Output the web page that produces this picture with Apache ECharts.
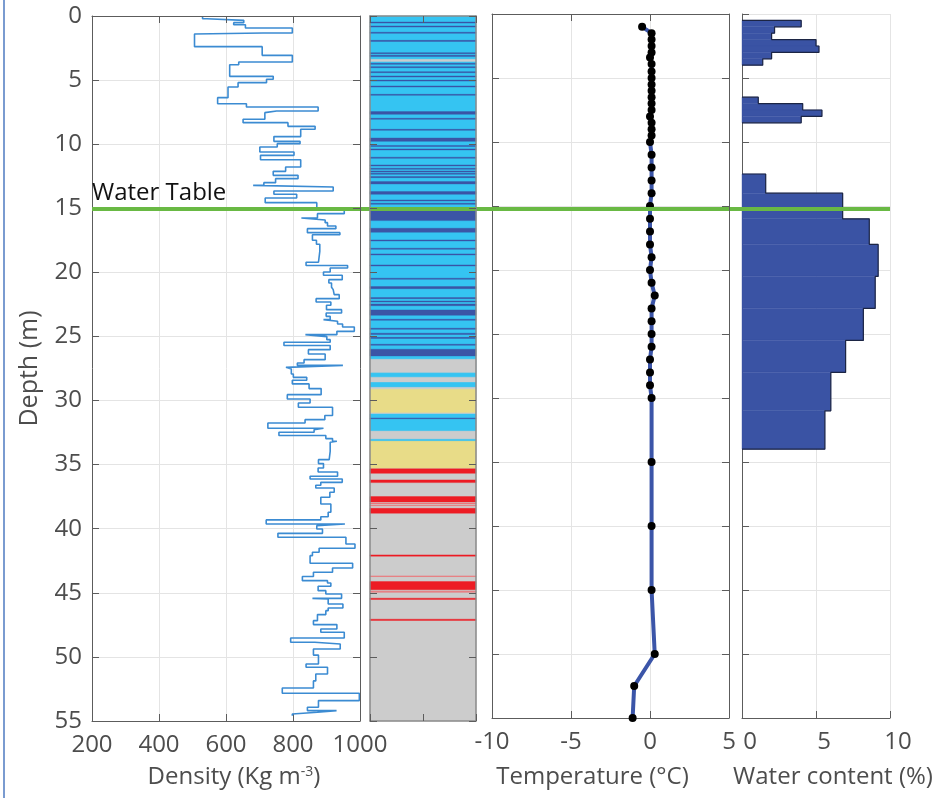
<!DOCTYPE html>
<html>
<head>
<meta charset="utf-8">
<title>Depth profiles</title>
<script src="https://cdn.jsdelivr.net/npm/echarts@6/dist/echarts.min.js"></script>
<style>
  html, body { margin: 0; padding: 0; background: #fff; }
  #main { width: 951px; height: 798px; }
</style>
</head>
<body>
<div id="main"></div>
<script>
// depth axis
var depthMin = 0, depthMax = 55, depthStep = 5;
var waterTable = 15;

// density log (stairs): segment i spans densityDepth[i] .. densityDepth[i+1]
var densityDepth = [0, 0.21, 0.34, 0.52, 0.68, 0.94, 1.33, 1.40, 2.39, 3.07,
  3.59, 3.80, 4.71, 4.94, 5.20, 5.54, 6.37, 6.84, 7.10, 7.41,
  7.54, 8.06, 8.32, 8.61, 8.84, 9.41, 9.78, 9.96, 10.22, 10.61,
  10.87, 11.21, 11.78, 12.12, 12.43, 12.69, 13.00, 13.21, 13.34, 13.65,
  13.91, 14.20, 14.56, 15.16, 15.42, 15.76, 15.91, 16.12, 16.38, 16.59,
  16.90, 17.06, 17.50, 17.81, 18.36, 19.21, 19.47, 19.66, 19.97, 20.23,
  20.57, 20.83, 21.16, 21.35, 21.74, 22.05, 22.31, 22.57, 22.91, 23.17,
  23.43, 23.69, 23.82, 24.03, 24.26, 24.60, 24.86, 25.01, 25.25, 25.45,
  25.71, 26.03, 26.37, 26.81, 27.07, 27.26, 27.41, 27.54, 27.93, 28.19,
  28.42, 28.70, 29.07, 29.54, 29.88, 30.19, 30.52, 31.17, 31.49, 31.75,
  32.16, 32.27, 32.47, 32.73, 32.97, 33.18, 33.26, 33.96, 34.61, 34.92,
  35.26, 35.57, 35.91, 36.12, 36.38, 36.61, 36.82, 37.15, 37.54, 38.07,
  38.71, 39.06, 39.31, 39.63, 39.76, 40.02, 40.36, 40.67, 41.19, 41.52,
  41.84, 42.10, 42.69, 43.06, 43.39, 43.73, 44.05, 44.23, 44.49, 44.83,
  45.09, 45.43, 45.48, 45.87, 46.18, 46.39, 46.70, 47.17, 47.48, 47.82,
  48.08, 48.52, 48.86, 48.99, 49.38, 49.86, 50.55, 50.81, 51.33, 51.87,
  52.43, 52.84, 53.41, 53.93, 54.19, 54.32, 54.45, 54.60];
var densityValue = [530, 543, 653, 623, 658, 798, 711, 506, 708, 798,
  638, 611, 741, 721, 636, 606, 575, 661, 875, 751,
  716, 651, 785, 866, 823, 743, 821, 753, 701, 803,
  703, 823, 778, 741, 815, 748, 713, 681, 920, 743,
  811, 717, 871, 953, 873, 825, 896, 903, 928, 843,
  940, 858, 870, 880, 876, 839, 963, 911, 891, 947,
  907, 915, 920, 923, 938, 869, 913, 900, 945, 899,
  911, 891, 933, 948, 983, 931, 837, 901, 911, 773,
  911, 846, 896, 833, 813, 949, 779, 795, 801, 841,
  798, 848, 884, 783, 851, 816, 918, 895, 836, 725,
  891, 863, 758, 898, 918, 931, 911, 908, 876, 891,
  875, 933, 851, 947, 883, 868, 923, 910, 883, 913,
  905, 883, 720, 955, 871, 888, 755, 958, 985, 878,
  858, 851, 978, 918, 861, 828, 903, 913, 875, 898,
  945, 858, 905, 949, 905, 898, 873, 861, 931, 883,
  953, 793, 865, 941, 861, 876, 839, 903, 868, 861,
  768, 998, 876, 843, 930, 873, 798];

// lithology column: bands drawn in order, later ones on top
var lithoTop    = [0, 29.12,
  0.47, 0.78, 1.27, 1.90, 2.86, 3.07, 3.69, 3.95, 4.34, 4.68, 5.00, 5.46, 6.11, 7.98, 8.84,
  10.10, 10.37, 11.02, 11.62, 11.88, 12.09, 12.27, 12.53, 14.35, 14.61, 17.47, 18.12, 18.56,
  19.42, 20.46, 21.97, 22.23, 23.66, 24.36, 25.07, 25.61,
  7.46, 9.52, 12.92, 13.70, 15.08, 16.56, 21.11, 22.47, 22.93, 24.75, 26.00,
  3.38, 26.78, 28.18, 28.97,
  29.12, 33.13, 31.05, 33.02, 31.36,
  35.33, 36.19, 37.49, 38.41, 42.04, 44.12, 45.42, 47.06,
  38.00, 38.16, 43.68, 44.90];
var lithoBottom = [29.12, 55,
  0.55, 0.86, 1.35, 1.98, 2.94, 3.15, 3.77, 4.03, 4.42, 4.76, 5.08, 5.54, 6.19, 8.06, 8.92,
  10.18, 10.45, 11.10, 11.70, 11.96, 12.17, 12.35, 12.61, 14.43, 14.69, 17.55, 18.20, 18.64,
  19.50, 20.54, 22.05, 22.31, 23.74, 24.44, 25.15, 25.69,
  7.67, 9.78, 13.10, 13.91, 15.96, 16.87, 21.27, 22.60, 23.35, 24.85, 26.52,
  3.54, 27.82, 28.55, 29.12,
  30.94, 35.28, 32.35, 33.13, 31.42,
  35.68, 36.40, 37.91, 38.79, 42.14, 44.77, 45.52, 47.16,
  38.05, 38.21, 43.73, 44.95];
var lithoType   = ['sand', 'silt',
  'clay', 'clay', 'clay', 'clay', 'clay', 'clay', 'clay', 'clay', 'clay', 'clay', 'clay', 'clay', 'clay', 'clay', 'clay',
  'clay', 'clay', 'clay', 'clay', 'clay', 'clay', 'clay', 'clay', 'clay', 'clay', 'clay', 'clay', 'clay',
  'clay', 'clay', 'clay', 'clay', 'clay', 'clay', 'clay', 'clay',
  'clay', 'clay', 'clay', 'clay', 'clay', 'clay', 'clay', 'clay', 'clay', 'clay', 'clay',
  'silt', 'silt', 'silt', 'silt',
  'gravel', 'gravel', 'sand', 'sand', 'clay',
  'rock', 'rock', 'rock', 'rock', 'rock', 'rock', 'rock', 'rock',
  'rockThin', 'rockThin', 'rockThin', 'rockThin'];
var lithoColor = {
  sand: '#35c4f2', clay: '#3b55a6', silt: '#cccccc',
  gravel: '#e8dc88', rock: '#ed1c24', rockThin: '#f0686c'
};

// temperature
var tempDepth = [1.0, 1.5, 2.0, 2.5, 3.0, 3.4, 3.9, 4.5, 5.0, 5.5,
  6.0, 6.5, 7.0, 7.5, 8.0, 8.5, 9.0, 9.5, 10.0, 11.0,
  12.0, 13.0, 14.0, 15.0, 16.0, 17.0, 18.0, 19.0, 20.0, 21.0,
  22.0, 23.0, 24.0, 25.0, 26.0, 27.0, 28.0, 29.0, 30.0, 35.0,
  40.0, 45.0, 50.0, 52.5, 55.0];
var tempValue = [-0.5, 0.1, 0.1, 0.1, 0.1, 0.0, 0.1, 0.1, 0.1, 0.1,
  0.1, 0.1, 0.1, 0.1, 0.0, 0.1, 0.1, 0.1, 0.0, 0.1,
  0.1, 0.1, 0.1, 0.0, 0.0, 0.0, 0.0, 0.1, 0.0, 0.1,
  0.3, 0.1, 0.1, 0.1, 0.1, 0.0, 0.0, 0.0, 0.1, 0.1,
  0.1, 0.1, 0.3, -1.0, -1.1];

// water content (%), per depth interval
var waterTop    = [0.5, 1.0, 1.5, 2.0, 2.5, 3.0, 3.5, 6.5, 7.0, 7.5, 8.0,
  12.5, 14.0, 16.0, 18.0, 20.5, 23.0, 25.5, 28.0, 31.0];
var waterBottom = [1.0, 1.5, 2.0, 2.5, 3.0, 3.5, 4.0, 7.0, 7.5, 8.0, 8.5,
  14.0, 16.0, 18.0, 20.5, 23.0, 25.5, 28.0, 31.0, 34.0];
var waterValue  = [4.0, 2.2, 2.0, 5.0, 5.2, 2.0, 1.4, 1.1, 4.1, 5.4, 4.0,
  1.6, 6.8, 8.6, 9.2, 9.0, 8.2, 7.0, 6.0, 5.6];

// ---- derived series data ----
var densityLine = [];
for (var i = 0; i < densityValue.length; i++) {
  densityLine.push([densityValue[i], densityDepth[i]]);
  densityLine.push([densityValue[i], densityDepth[i + 1]]);
}

var lithoData = [];
for (var i = 0; i < lithoTop.length; i++) {
  lithoData.push({ value: [0, lithoTop[i], 2, lithoBottom[i]], itemStyle: { color: lithoColor[lithoType[i]] } });
}

var tempData = tempDepth.map(function (d, i) { return [tempValue[i], d]; });

var waterData = [];
var waterOutline = [];
for (var i = 0; i < waterValue.length; i++) {
  waterData.push([0, waterTop[i], waterValue[i], waterBottom[i]]);
  if (i === 0 || waterTop[i] !== waterBottom[i - 1]) {
    if (i > 0) {
      waterOutline.push([0, waterBottom[i - 1]]);
      waterOutline.push(['-', '-']);
    }
    waterOutline.push([0, waterTop[i]]);
  }
  waterOutline.push([waterValue[i], waterTop[i]]);
  waterOutline.push([waterValue[i], waterBottom[i]]);
}
waterOutline.push([0, waterBottom[waterBottom.length - 1]]);

// ---- styles ----
var font = 'Open Sans';
var labelColor = '#4d4d4d';
var axisColor = '#5c5c5c';
var gridColor = '#e4e4e4';

function bandRect(params, api) {
  var p0 = api.coord([api.value(0), api.value(1)]);
  var p1 = api.coord([api.value(2), api.value(3)]);
  return {
    type: 'rect',
    shape: { x: p0[0], y: p0[1], width: p1[0] - p0[0], height: p1[1] - p0[1] },
    style: { fill: api.visual('color'), stroke: api.visual('color'), lineWidth: 0.4 }
  };
}

function plainNumber(v) { return String(v); }

function xAxisOf(grid, min, max, step, extra) {
  var a = {
    type: 'value', gridIndex: grid, min: min, max: max, interval: step,
    position: 'bottom', z: 1,
    axisLine: { show: true, onZero: false, lineStyle: { color: axisColor, width: 1 } },
    axisTick: { show: true, inside: true, length: 7, lineStyle: { color: axisColor } },
    axisLabel: { show: true, color: labelColor, fontSize: 24, fontFamily: font, margin: 12, formatter: plainNumber },
    splitLine: { show: true, lineStyle: { color: gridColor, width: 1 } }
  };
  return Object.assign(a, extra || {});
}

function yAxisOf(grid, extra) {
  var a = {
    type: 'value', gridIndex: grid, min: depthMin, max: depthMax, interval: depthStep,
    inverse: true, position: 'left', z: 1,
    axisLine: { show: true, onZero: false, lineStyle: { color: axisColor, width: 1 } },
    axisTick: { show: true, inside: true, length: 7, lineStyle: { color: axisColor } },
    axisLabel: { show: false },
    splitLine: { show: true, lineStyle: { color: gridColor, width: 1 } }
  };
  return Object.assign(a, extra || {});
}

var mirror = { axisLabel: { show: false }, splitLine: { show: false }, name: '', z: 6 };

var chart = echarts.init(document.getElementById('main'));

var option = {
  backgroundColor: '#ffffff',
  animation: false,
  textStyle: { fontFamily: font },
  graphic: [{
    type: 'rect', left: 3, top: 0,
    shape: { width: 2, height: 798 },
    style: { fill: '#7a9bd0' }
  }],
  grid: [
    { left: 92, top: 16, width: 268, height: 705, outerBoundsMode: 'none' },
    { left: 370, top: 16, width: 106, height: 705, outerBoundsMode: 'none' },
    { left: 492, top: 14, width: 237, height: 704, outerBoundsMode: 'none' },
    { left: 742, top: 14, width: 148, height: 704, outerBoundsMode: 'none' },
    { left: 92, top: 16, width: 798, height: 705, outerBoundsMode: 'none' }
  ],
  xAxis: [
    xAxisOf(0, 200, 1000, 200, {
      name: 'Density (Kg m{sup|-3})', nameLocation: 'middle', nameGap: 44,
      nameTextStyle: {
        color: labelColor, fontSize: 24, fontFamily: font, padding: [0, 0, 0, 16],
        rich: { sup: { fontSize: 14, color: labelColor, fontFamily: font, verticalAlign: 'top', padding: [0, 0, 10, 0] } }
      }
    }),
    xAxisOf(0, 200, 1000, 200, Object.assign({ position: 'top' }, mirror)),
    xAxisOf(1, 0, 2, 1, { axisLabel: { show: false }, splitLine: { show: false }, z: 10,
      axisLine: { show: true, onZero: false, lineStyle: { color: '#8a8a8a', width: 1.5 } } }),
    xAxisOf(1, 0, 2, 1, { position: 'top', axisLabel: { show: false }, splitLine: { show: false }, z: 10,
      axisLine: { show: true, onZero: false, lineStyle: { color: '#8a8a8a', width: 1.5 } } }),
    xAxisOf(2, -10, 5, 5, {
      name: 'Temperature (\u00B0C)', nameLocation: 'middle', nameGap: 47,
      nameTextStyle: { color: labelColor, fontSize: 24, fontFamily: font, padding: [0, 36, 0, 0] }
    }),
    xAxisOf(2, -10, 5, 5, Object.assign({ position: 'top' }, mirror)),
    xAxisOf(3, 0, 10, 5, {
      axisLabel: { show: true, color: labelColor, fontSize: 24, fontFamily: font, margin: 12, padding: [0, 0, 0, 16], formatter: plainNumber },
      name: 'Water content (%)', nameLocation: 'middle', nameGap: 47,
      nameTextStyle: { color: labelColor, fontSize: 24, fontFamily: font, padding: [0, 0, 0, 34] }
    }),
    { type: 'value', gridIndex: 4, min: 0, max: 1, show: false }
  ],
  yAxis: [
    yAxisOf(0, {
      axisLabel: { show: true, color: labelColor, fontSize: 24, fontFamily: font, margin: 10 },
      name: 'Depth (m)', nameLocation: 'middle', nameGap: 50, nameRotate: 90,
      nameTextStyle: { color: labelColor, fontSize: 25, fontFamily: font }
    }),
    yAxisOf(0, Object.assign({ position: 'right' }, mirror)),
    yAxisOf(1, { splitLine: { show: false }, z: 10,
      axisLine: { show: true, onZero: false, lineStyle: { color: '#8a8a8a', width: 1.5 } } }),
    yAxisOf(1, { position: 'right', splitLine: { show: false }, z: 10,
      axisLine: { show: true, onZero: false, lineStyle: { color: '#8a8a8a', width: 1.5 } } }),
    yAxisOf(2),
    yAxisOf(2, Object.assign({ position: 'right' }, mirror)),
    yAxisOf(3),
    { type: 'value', gridIndex: 4, min: depthMin, max: depthMax, inverse: true, show: false }
  ],
  series: [
    {
      name: 'Density', type: 'line', xAxisIndex: 0, yAxisIndex: 0,
      data: densityLine, symbol: 'none', z: 3,
      lineStyle: { color: '#3b8bd2', width: 1.6 }
    },
    {
      name: 'Lithology', type: 'custom', xAxisIndex: 2, yAxisIndex: 2,
      data: lithoData, renderItem: bandRect,
      encode: { x: [0, 2], y: [1, 3] }, z: 2
    },
    {
      name: 'Temperature', type: 'line', xAxisIndex: 4, yAxisIndex: 4,
      data: tempData, symbol: 'circle', symbolSize: 8,
      itemStyle: { color: '#000000' },
      lineStyle: { color: '#3b55a8', width: 4 }, z: 3
    },
    {
      name: 'Water content', type: 'custom', xAxisIndex: 6, yAxisIndex: 6,
      data: waterData, renderItem: bandRect,
      encode: { x: [0, 2], y: [1, 3] },
      itemStyle: { color: '#3a53a4' }, z: 2
    },
    {
      name: 'Water content outline', type: 'line', xAxisIndex: 6, yAxisIndex: 6,
      data: waterOutline, symbol: 'none', connectNulls: false,
      lineStyle: { color: '#1c2544', width: 1.2 }, z: 3
    },
    {
      name: 'Water table', type: 'line', xAxisIndex: 7, yAxisIndex: 7,
      data: [], silent: true, z: 20,
      markLine: {
        silent: true, symbol: ['none', 'none'], animation: false,
        lineStyle: { color: '#69b944', width: 4, type: 'solid' },
        label: {
          show: true, position: 'insideStartTop', formatter: 'Water Table',
          color: '#111111', fontSize: 24, fontFamily: font, distance: [0, 3]
        },
        data: [{ yAxis: waterTable }]
      }
    }
  ]
};

chart.setOption(option);
</script>
</body>
</html>
